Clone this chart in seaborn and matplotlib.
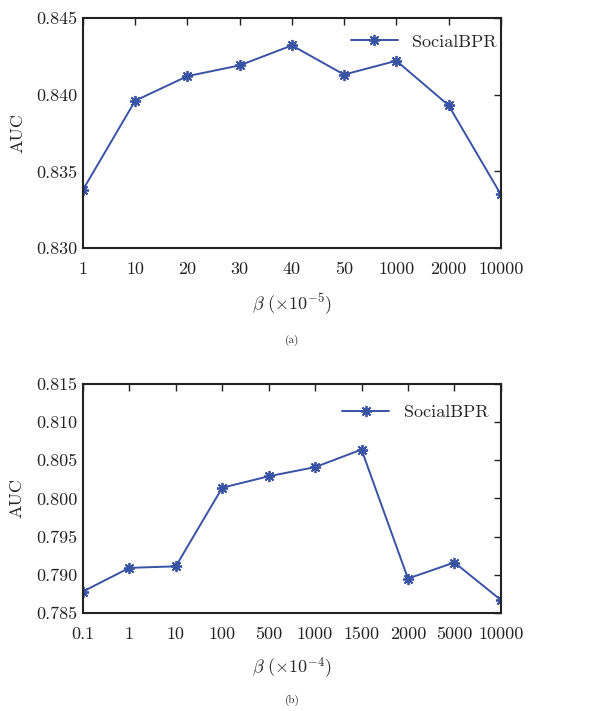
import matplotlib
matplotlib.use('Agg')
import matplotlib.pyplot as plt
import seaborn as sns
import pandas as pd

# panel (a): beta x 1e-5
beta_a = ['1', '10', '20', '30', '40', '50', '1000', '2000', '10000']
auc_a = [0.8338, 0.8396, 0.8412, 0.8419, 0.8432, 0.8413, 0.8422, 0.8393, 0.8335]

# panel (b): beta x 1e-4
beta_b = ['0.1', '1', '10', '100', '500', '1000', '1500', '2000', '5000', '10000']
auc_b = [0.7878, 0.7909, 0.7911, 0.8014, 0.8029, 0.8041, 0.8064, 0.7895, 0.7916, 0.7867]

sns.set_style('white')
plt.rcParams['font.family'] = ['cmr10', 'DejaVu Serif']
plt.rcParams['mathtext.fontset'] = 'cm'
plt.rcParams['axes.formatter.use_mathtext'] = True

line_color = '#3852a4'
star = (8, 2, 0)

fig = plt.figure(figsize=(6.1, 7.11), dpi=100)
ax1 = fig.add_axes([0.136, 0.651, 0.685, 0.324])
ax2 = fig.add_axes([0.136, 0.138, 0.685, 0.322])


def draw(ax, xs, ys, ylim, yticks, xlabel, tag, leg_anchor, tag_y):
    df = pd.DataFrame({'beta': xs, 'AUC': ys})
    sns.lineplot(data=df, x='beta', y='AUC', ax=ax, color=line_color,
                 marker=star, markersize=8, markeredgewidth=1.3,
                 markeredgecolor=line_color, linewidth=1.4, label='SocialBPR')
    ax.set_xlim(0, len(xs) - 1)
    ax.set_ylim(*ylim)
    ax.set_yticks(yticks)
    ax.set_yticklabels([f'{t:.3f}' for t in yticks])
    ax.tick_params(direction='in', length=5, width=1, top=True, right=True,
                   labelsize=13, pad=10, colors='#222222')
    ax.tick_params(axis='y', pad=4)
    for s in ax.spines.values():
        s.set_linewidth(1.5)
        s.set_color('#222222')
    ax.set_ylabel('AUC', fontsize=13, labelpad=8)
    ax.set_xlabel(xlabel, fontsize=13, labelpad=10)
    ax.text(0.5, tag_y, tag, transform=ax.transAxes, ha='center',
            va='center', fontsize=8)
    ax.legend(loc='center right', bbox_to_anchor=leg_anchor, frameon=False,
              fontsize=13, handlelength=2.6, borderaxespad=0, borderpad=0)


draw(ax1, beta_a, auc_a, (0.830, 0.845), [0.830, 0.835, 0.840, 0.845],
     r'$\beta\ (\times10^{-5})$', '(a)', (0.99, 0.896), -0.40)
draw(ax2, beta_b, auc_b, (0.785, 0.815),
     [0.785, 0.790, 0.795, 0.800, 0.805, 0.810, 0.815],
     r'$\beta\ (\times10^{-4})$', '(b)', (0.97, 0.875), -0.38)

fig.savefig('out.png', dpi=100, facecolor='white')
